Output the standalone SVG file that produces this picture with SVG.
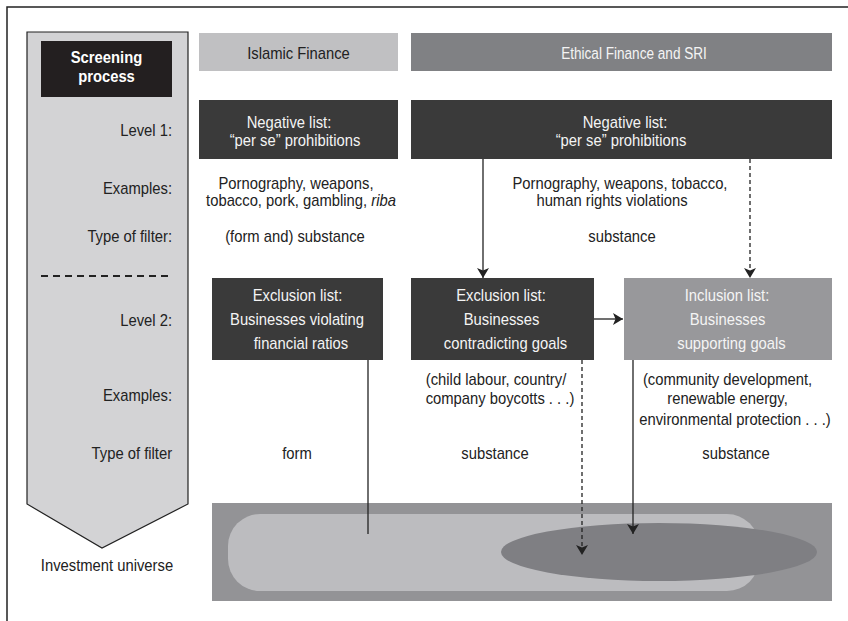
<svg xmlns="http://www.w3.org/2000/svg" width="848" height="621" viewBox="0 0 848 621">
<style>
text{font-family:"Liberation Sans",Arial,sans-serif;font-size:17px;fill:#222;transform-box:fill-box;transform-origin:center;transform:scaleX(0.87)}
.w{fill:#fff}
.lw{fill:#f4f4f4}
.c{text-anchor:middle}
.r{text-anchor:end;transform-origin:right}
.hd{transform:scaleX(0.8)}
.conn{stroke:#222;stroke-width:1.3;fill:none}
.dash{stroke-dasharray:4 3}
</style>
<defs>
<marker id="ah" viewBox="0 0 10 12" refX="10" refY="6" markerWidth="10" markerHeight="12" markerUnits="userSpaceOnUse" orient="auto">
<path d="M0,0 L10,6 L0,12 L2.5,6 Z" fill="#222"/>
</marker>
</defs>
<rect width="848" height="621" fill="#fff"/>
<path d="M7,621 V7 H848" fill="none" stroke="#222" stroke-width="1.5"/>

<g id="process">
<path d="M27,32 H188 V504 L102,548 L27,504 Z" fill="#d3d3d5" stroke="#222" stroke-width="1.2"/>
<rect x="41" y="41" width="131" height="56" fill="#231f20"/>
<text class="c w" x="106.5" y="63" font-weight="bold">Screening</text>
<text class="c w" x="106.5" y="82" font-weight="bold">process</text>
<text class="r" x="172" y="136">Level 1:</text>
<text class="r" x="172" y="194">Examples:</text>
<text class="r" x="172" y="242">Type of filter:</text>
<line x1="41" y1="276" x2="172" y2="276" stroke="#222" stroke-width="2" stroke-dasharray="7 5"/>
<text class="r" x="172" y="326">Level 2:</text>
<text class="r" x="172" y="401">Examples:</text>
<text class="r" x="172" y="459">Type of filter</text>
<text class="c" x="107" y="571">Investment universe</text>
</g>

<g id="islamic-header">
<rect x="199" y="33" width="199" height="38" fill="#c0c0c2"/>
<text class="c" x="298.5" y="59">Islamic Finance</text>
</g>
<g id="ethical-header">
<rect x="411" y="33" width="421" height="38" fill="#808184"/>
<text class="c lw hd" x="634" y="59">Ethical Finance and SRI</text>
</g>

<g id="neg-islamic">
<rect x="199" y="100" width="199" height="59" fill="#3a3a3a"/>
<text class="c lw" x="289" y="128">Negative list:</text>
<text class="c lw" x="295" y="146">“per se” prohibitions</text>
</g>
<g id="neg-ethical">
<rect x="411" y="100" width="421" height="59" fill="#3a3a3a"/>
<text class="c lw" x="625" y="128">Negative list:</text>
<text class="c lw" x="621" y="146">“per se” prohibitions</text>
</g>

<g id="level1-texts">
<text class="c" x="296" y="189">Pornography, weapons,</text>
<text class="c" x="301" y="206">tobacco, pork, gambling, <tspan font-style="italic">riba</tspan></text>
<text class="c" x="295" y="242">(form and) substance</text>
<text class="c" x="620" y="189">Pornography, weapons, tobacco,</text>
<text class="c" x="612" y="206">human rights violations</text>
<text class="c" x="622" y="242">substance</text>
</g>

<g id="excl-islamic">
<rect x="212" y="278" width="171" height="82" fill="#3a3a3a"/>
<text class="c lw" x="297.5" y="301">Exclusion list:</text>
<text class="c lw" x="297" y="325">Businesses violating</text>
<text class="c lw" x="301" y="349">financial ratios</text>
</g>
<g id="excl-ethical">
<rect x="411" y="278" width="183" height="82" fill="#3a3a3a"/>
<text class="c lw" x="501" y="301">Exclusion list:</text>
<text class="c lw" x="501.5" y="325">Businesses</text>
<text class="c lw" x="505.5" y="349">contradicting goals</text>
</g>
<g id="incl-ethical">
<rect x="624" y="278" width="208" height="82" fill="#98989b"/>
<text class="c lw" x="727" y="301">Inclusion list:</text>
<text class="c lw" x="727.5" y="325">Businesses</text>
<text class="c lw" x="731.5" y="349">supporting goals</text>
</g>

<g id="level2-texts">
<text class="c" x="496" y="385">(child labour, country/</text>
<text class="c" x="500" y="404">company boycotts . . .)</text>
<text class="c" x="727.5" y="385">(community development,</text>
<text class="c" x="727.5" y="404">renewable energy,</text>
<text class="c" x="735" y="425">environmental protection . . .)</text>
<text class="c" x="297" y="459">form</text>
<text class="c" x="495" y="459">substance</text>
<text class="c" x="736" y="459">substance</text>
</g>

<g id="universe">
<rect x="212" y="503" width="620" height="98" fill="#939396"/>
<rect x="228" y="514" width="531" height="77" rx="32" fill="#bcbcbf"/>
<ellipse cx="659" cy="552" rx="158" ry="29" fill="#7f7f83"/>
</g>

<g id="connectors">
<line class="conn" x1="483" y1="159" x2="483" y2="278" marker-end="url(#ah)"/>
<line class="conn dash" x1="750" y1="159" x2="750" y2="278" marker-end="url(#ah)"/>
<line class="conn" x1="594" y1="319" x2="623" y2="319" marker-end="url(#ah)"/>
<line class="conn" x1="368" y1="360" x2="368" y2="534"/>
<line class="conn dash" x1="582" y1="360" x2="582" y2="555" marker-end="url(#ah)"/>
<line class="conn" x1="633" y1="360" x2="633" y2="534" marker-end="url(#ah)"/>
</g>
</svg>
